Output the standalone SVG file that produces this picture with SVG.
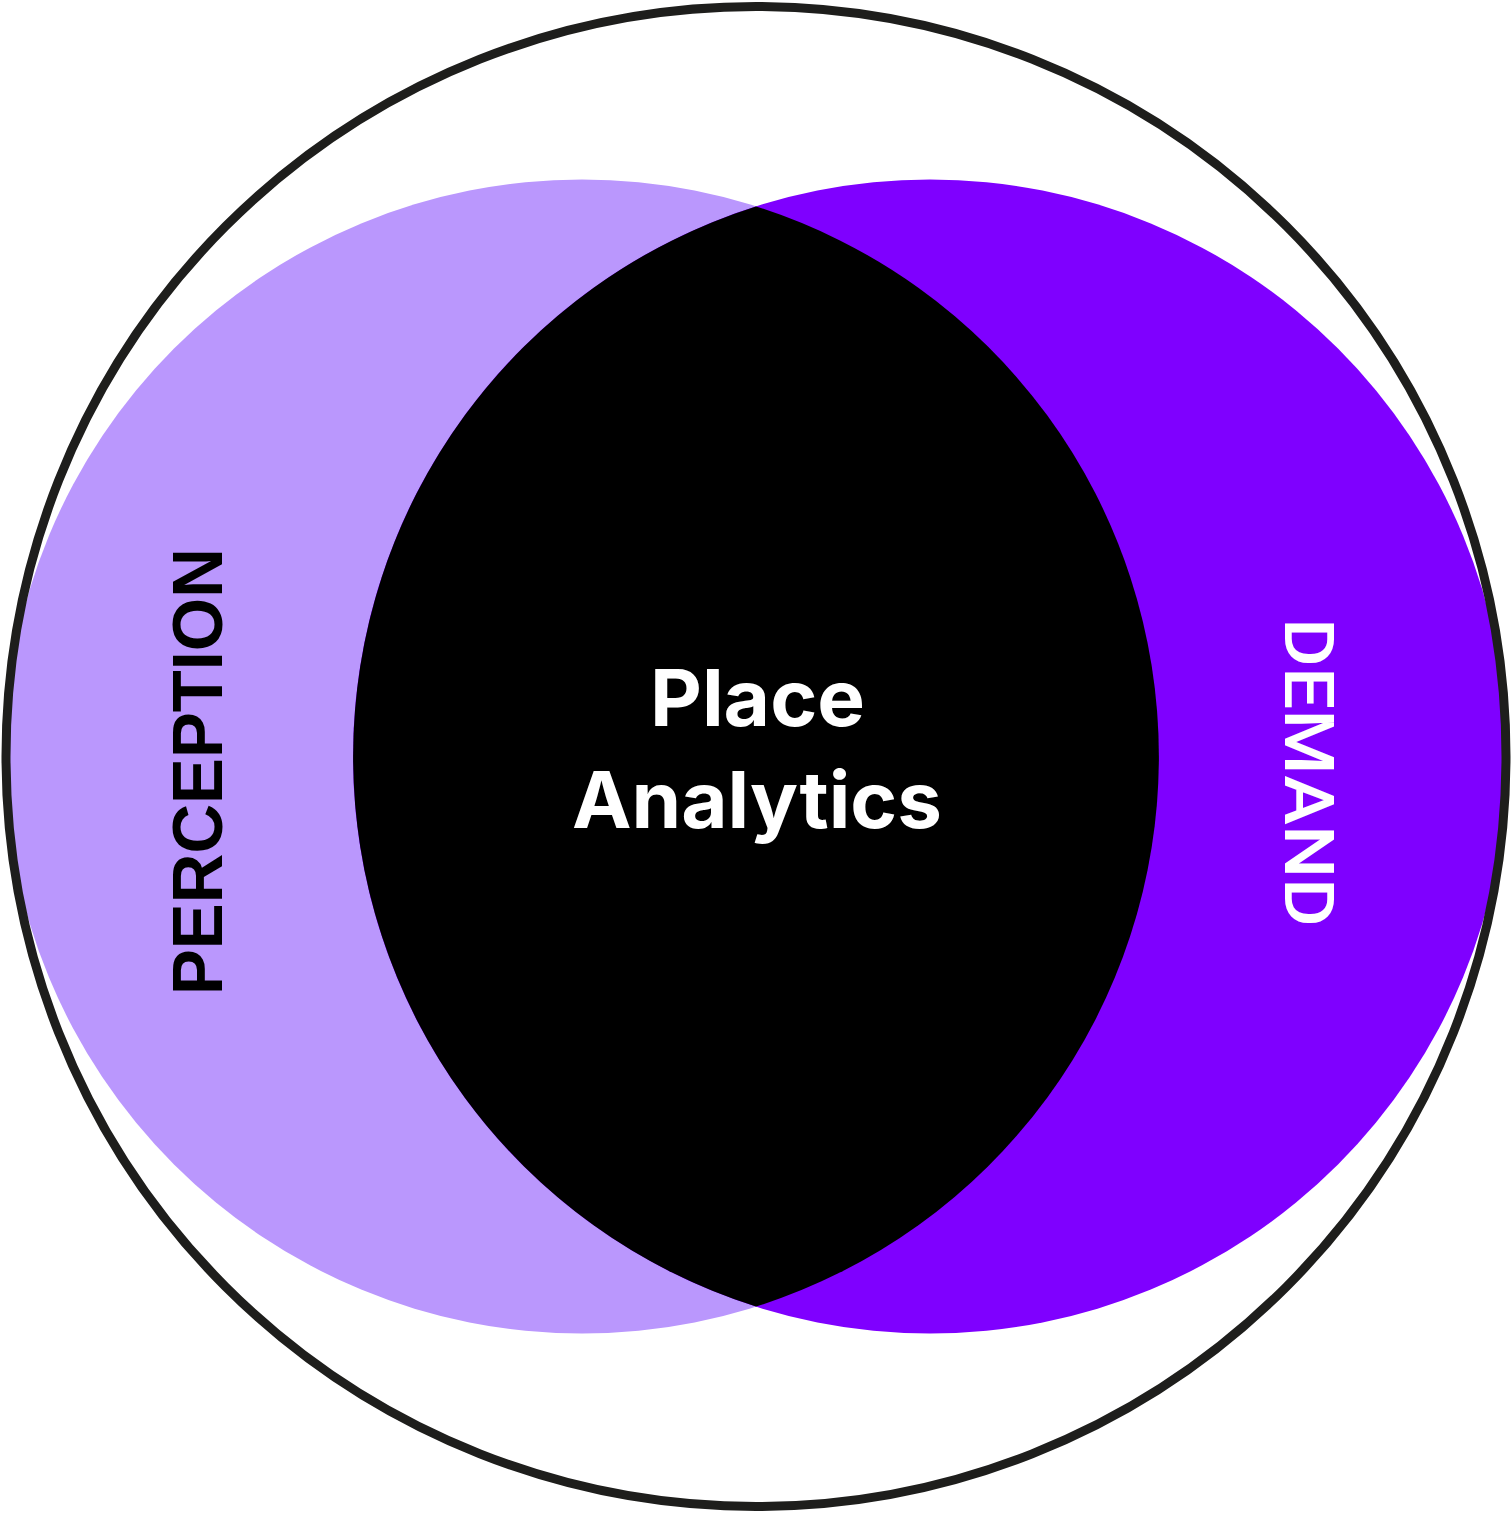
<svg xmlns="http://www.w3.org/2000/svg" width="1512" height="1513" viewBox="0 0 1512 1513">
<style>
.lbl{font-family:"Liberation Sans",Arial,sans-serif;font-size:70px}
.center{font-family:Inter,"Open Sans",sans-serif;font-weight:700;font-size:78px;fill:#ffffff}
</style>
<rect width="1512" height="1513" fill="#ffffff"/>
<g id="perception-set">
<circle cx="582" cy="756.5" r="577" fill="#BA97FD"/>
</g>
<g id="demand-set">
<circle cx="930" cy="756.5" r="577" fill="#7F00FF"/>
</g>
<g id="place-analytics">
<path d="M756,206.4 A577,577 0 0 0 756,1306.6 A577,577 0 0 0 756,206.4 Z" fill="#000000"/>
<text class="center" x="757.5" y="726" text-anchor="middle" textLength="215" lengthAdjust="spacingAndGlyphs">Place</text>
<text class="center" x="757" y="828" text-anchor="middle" textLength="370" lengthAdjust="spacingAndGlyphs">Analytics</text>
</g>
<g id="outer">
<circle cx="756" cy="756.5" r="750" fill="none" stroke="#1E1E1C" stroke-width="9"/>
</g>
<g id="labels">
<text class="lbl" transform="translate(222,771.5) rotate(-90)" text-anchor="middle" font-weight="700" fill="#000000" textLength="447" lengthAdjust="spacingAndGlyphs">PERCEPTION</text>
<text transform="translate(1285,772.5) rotate(90)" text-anchor="middle" font-family="Roboto,'Liberation Sans',sans-serif" font-size="69" font-weight="500" fill="#ffffff" textLength="309" lengthAdjust="spacingAndGlyphs">DEMAND</text>
</g>
<g id="connectors"></g>
</svg>
